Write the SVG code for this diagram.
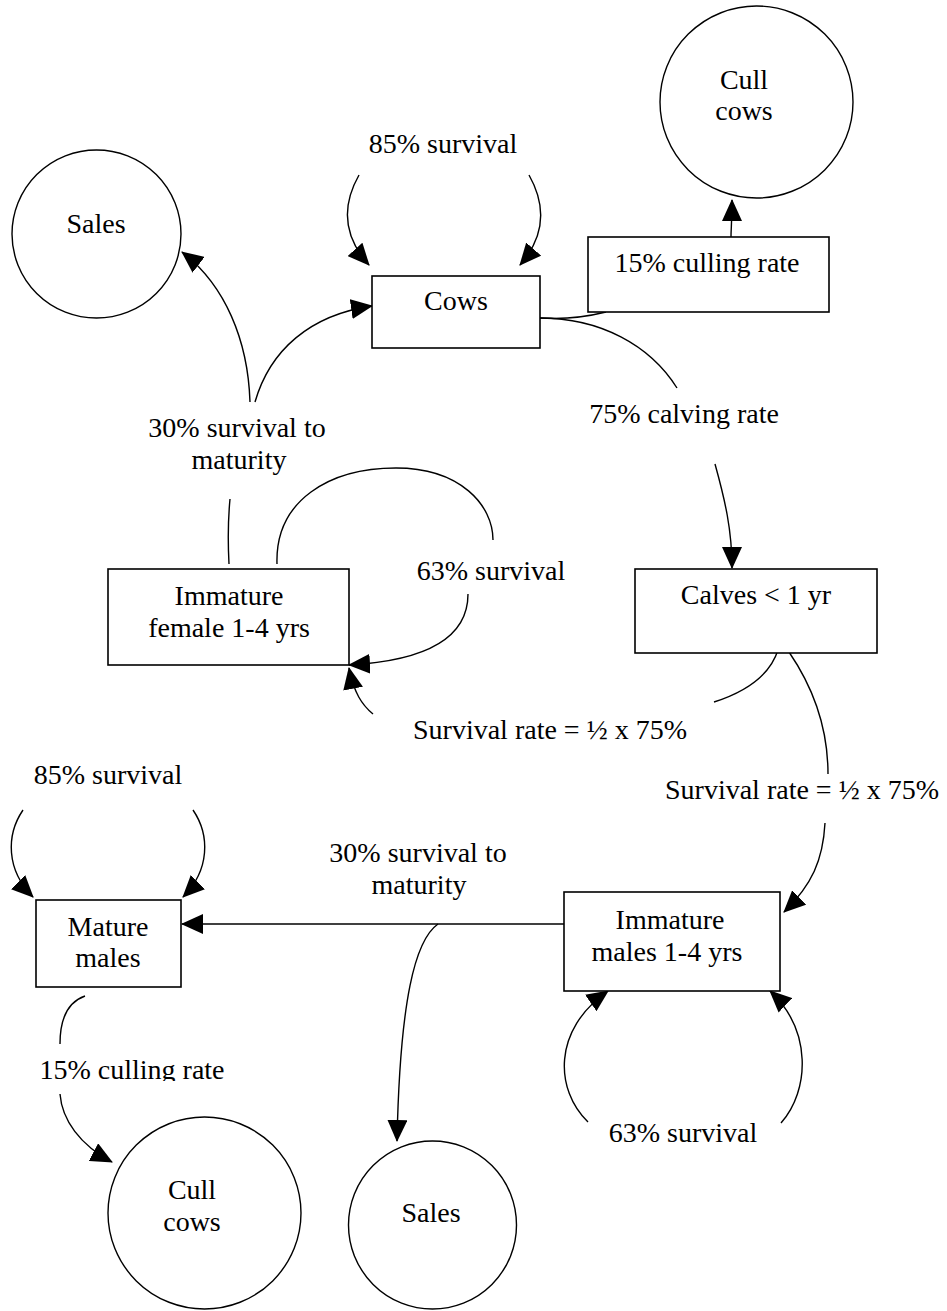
<svg xmlns="http://www.w3.org/2000/svg" width="947" height="1311" viewBox="0 0 947 1311">
<style>
text{font-family:"Liberation Serif","Times New Roman",serif;font-size:28px;fill:#000;text-anchor:middle}
.box{fill:#fff;stroke:#000;stroke-width:1.6}
.circ{fill:#fff;stroke:#000;stroke-width:1.4}
.ln{fill:none;stroke:#000;stroke-width:1.4}
.arr{fill:none;stroke:#000;stroke-width:1.4;marker-end:url(#ah)}
</style>
<defs>
<marker id="ah" markerUnits="userSpaceOnUse" markerWidth="22" markerHeight="20" refX="21" refY="10" orient="auto">
<path d="M0,0 L22,10 L0,20 z" fill="#000"/>
</marker>
<clipPath id="clipCull"><rect x="0" y="1040" width="300" height="41"/></clipPath>
</defs>
<rect width="947" height="1311" fill="#fff"/>

<g id="connectors">
<path class="arr" d="M359,175 C342,205 342,235 369,265"/>
<path class="arr" d="M529,175 C546,205 546,235 520,265"/>
<path class="arr" d="M731,237 C731,228 732,222 732,200"/>
<path class="ln" d="M540,318 C570,320 590,316 606,312"/>
<path class="ln" d="M540,318 C600,318 650,345 677,388"/>
<path class="arr" d="M715,464 C725,500 732,530 732,568"/>
<path class="ln" d="M778,650 C770,675 745,692 714,702"/>
<path class="arr" d="M373,714 C362,705 354,693 349,668"/>
<path class="ln" d="M277,564 C275,500 330,468 396,468 C460,468 493,505 493,540"/>
<path class="arr" d="M468,594 C468,632 438,660 349,665"/>
<path class="arr" d="M250,402 C248,340 225,285 182,252"/>
<path class="arr" d="M255,402 C270,350 310,315 372,306"/>
<path class="ln" d="M230,499 C228,520 228,545 229,564"/>
<path class="ln" d="M789,652 C815,690 828,730 828,774"/>
<path class="arr" d="M825,823 C823,860 812,885 784,912"/>
<path class="arr" d="M23,810 C6,835 6,870 33,897"/>
<path class="arr" d="M193,810 C210,835 210,870 183,897"/>
<path class="arr" d="M564,924 L182,924"/>
<path class="arr" d="M438,924 C415,940 400,1000 397,1141"/>
<path class="ln" d="M85,996 C65,1003 60,1025 60,1044"/>
<path class="arr" d="M60,1094 C62,1120 80,1145 112,1162"/>
<path class="arr" d="M588,1122 C555,1090 552,1030 608,991"/>
<path class="arr" d="M781,1123 C810,1090 812,1030 770,991"/>
</g>

<g id="sales-top"><ellipse class="circ" cx="96.5" cy="234" rx="84.5" ry="84"/><text x="96" y="233">Sales</text></g>
<g id="cull-top"><ellipse class="circ" cx="756.5" cy="102" rx="96.5" ry="96"/><text x="744" y="89">Cull</text><text x="744" y="120">cows</text></g>
<g id="cows"><rect class="box" x="372" y="276" width="168" height="72"/><text x="456" y="310">Cows</text></g>
<g id="culling-box"><rect class="box" x="588" y="237" width="241" height="75"/><text x="707" y="272">15% culling rate</text></g>
<g id="female"><rect class="box" x="108" y="569" width="241" height="96"/><text x="229" y="605">Immature</text><text x="229" y="637">female 1-4 yrs</text></g>
<g id="calves"><rect class="box" x="635" y="569" width="242" height="84"/><text x="756" y="604">Calves &lt; 1 yr</text></g>
<g id="mature-males"><rect class="box" x="36" y="900" width="145" height="87"/><text x="108" y="936">Mature</text><text x="108" y="967">males</text></g>
<g id="immature-males"><rect class="box" x="564" y="892" width="216" height="99"/><text x="670" y="929">Immature</text><text x="667" y="961">males 1-4 yrs</text></g>
<g id="cull-bottom"><ellipse class="circ" cx="204.5" cy="1213" rx="96.5" ry="96"/><text x="192" y="1199">Cull</text><text x="192" y="1231">cows</text></g>
<g id="sales-bottom"><ellipse class="circ" cx="432.5" cy="1225" rx="84" ry="84"/><text x="431" y="1222">Sales</text></g>

<g id="labels">
<text x="443" y="153">85% survival</text>
<text x="237" y="437">30% survival to</text>
<text x="239" y="469">maturity</text>
<text x="684" y="423">75% calving rate</text>
<text x="491" y="580">63% survival</text>
<text x="550" y="739">Survival rate = ½ x 75%</text>
<text x="802" y="799">Survival rate = ½ x 75%</text>
<text x="108" y="784">85% survival</text>
<text x="418" y="862">30% survival to</text>
<text x="419" y="894">maturity</text>
<text x="132" y="1079" clip-path="url(#clipCull)">15% culling rate</text>
<text x="683" y="1142">63% survival</text>
</g>
</svg>
